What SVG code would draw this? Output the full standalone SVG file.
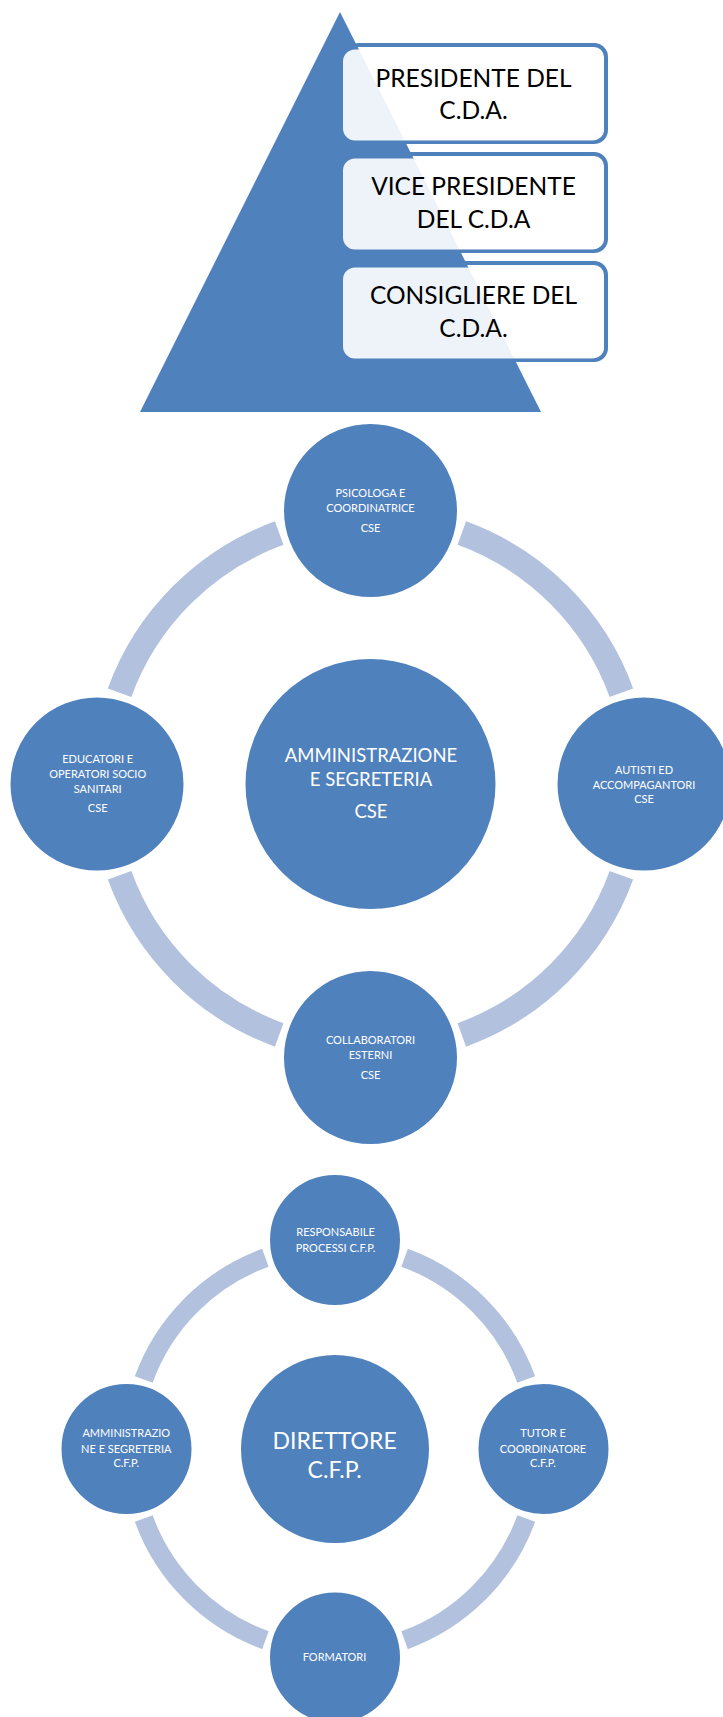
<svg xmlns="http://www.w3.org/2000/svg" width="723" height="1717" viewBox="0 0 723 1717">
<style>
.bg{fill:#ffffff}
.tri{fill:#4f81bd}
.bstroke{fill:none;stroke:#4f81bd;stroke-width:4}
.bfill{fill:#ffffff;fill-opacity:0.9}
.btxt{font-family:Lato,"Open Sans",sans-serif;font-size:24.5px;fill:#000000;text-anchor:middle}
.node{fill:#4f81bd;stroke:#ffffff;stroke-width:2}
.arc1{fill:none;stroke:#b2c2de;stroke-width:25}
.arc2{fill:none;stroke:#b2c2de;stroke-width:19}
.t{font-family:Lato,"Open Sans",sans-serif;fill:#ffffff;text-anchor:middle}
.s{font-size:11px}
.m{font-size:18.5px}
.l{font-size:23px}
</style>
<rect class="bg" x="0" y="0" width="723" height="1717"/>

<g id="pyramid">
<polygon class="tri" points="340,12 140,412 541,412"/>
</g>
<g id="box-presidente">
<rect class="bstroke" x="347" y="45" width="259" height="97" rx="12"/>
<rect class="bfill" x="343" y="49.5" width="261" height="91" rx="12"/>
<text class="btxt" x="473.5" y="87.3">PRESIDENTE DEL</text>
<text class="btxt" x="473.5" y="119">C.D.A.</text>
</g>
<g id="box-vicepresidente">
<rect class="bstroke" x="347" y="154" width="259" height="97" rx="12"/>
<rect class="bfill" x="343" y="158.5" width="261" height="91" rx="12"/>
<text class="btxt" x="473.5" y="195">VICE PRESIDENTE</text>
<text class="btxt" x="473.5" y="227.7">DEL C.D.A</text>
</g>
<g id="box-consigliere">
<rect class="bstroke" x="347" y="263" width="259" height="97" rx="12"/>
<rect class="bfill" x="343" y="267.5" width="261" height="91" rx="12"/>
<text class="btxt" x="473.5" y="304.3">CONSIGLIERE DEL</text>
<text class="btxt" x="473.5" y="337.3">C.D.A.</text>
</g>

<g id="connectors">
<path class="arc1" d="M461.82,533.10 A267,267 0 0 1 621.40,692.68"/>
<path class="arc1" d="M621.40,875.32 A267,267 0 0 1 461.82,1034.90"/>
<path class="arc1" d="M279.18,1034.90 A267,267 0 0 1 119.60,875.32"/>
<path class="arc1" d="M119.60,692.68 A267,267 0 0 1 279.18,533.10"/>
<path class="arc2" d="M404.60,1257.77 A203.5,203.5 0 0 1 526.23,1379.40"/>
<path class="arc2" d="M526.23,1518.60 A203.5,203.5 0 0 1 404.60,1640.23"/>
<path class="arc2" d="M265.40,1640.23 A203.5,203.5 0 0 1 143.77,1518.60"/>
<path class="arc2" d="M143.77,1379.40 A203.5,203.5 0 0 1 265.40,1257.77"/>
</g>

<g id="cse-center">
<circle class="node" cx="370.5" cy="784" r="126"/>
<text class="t m" x="371" y="761.7">AMMINISTRAZIONE</text>
<text class="t m" x="371" y="786">E SEGRETERIA</text>
<text class="t m" x="371" y="818">CSE</text>
</g>
<g id="cse-psicologa">
<circle class="node" cx="370.5" cy="510.5" r="87.5"/>
<text class="t s" x="370.5" y="496.7">PSICOLOGA E</text>
<text class="t s" x="370.5" y="512">COORDINATRICE</text>
<text class="t s" x="370.5" y="531.7">CSE</text>
</g>
<g id="cse-autisti">
<circle class="node" cx="644" cy="784" r="87.5"/>
<text class="t s" x="644" y="774">AUTISTI ED</text>
<text class="t s" x="644" y="789">ACCOMPAGANTORI</text>
<text class="t s" x="644" y="802.7">CSE</text>
</g>
<g id="cse-collaboratori">
<circle class="node" cx="370.5" cy="1057.5" r="87.5"/>
<text class="t s" x="370.5" y="1044">COLLABORATORI</text>
<text class="t s" x="370.5" y="1059.3">ESTERNI</text>
<text class="t s" x="370.5" y="1079">CSE</text>
</g>
<g id="cse-educatori">
<circle class="node" cx="97" cy="784" r="87.5"/>
<text class="t s" x="97.7" y="762.7">EDUCATORI E</text>
<text class="t s" x="97.7" y="777.7">OPERATORI SOCIO</text>
<text class="t s" x="97.7" y="793">SANITARI</text>
<text class="t s" x="97.7" y="812">CSE</text>
</g>

<g id="cfp-direttore">
<circle class="node" cx="335" cy="1449" r="95"/>
<text class="t l" x="334.6" y="1449">DIRETTORE</text>
<text class="t l" x="334.6" y="1477.7">C.F.P.</text>
</g>
<g id="cfp-responsabile">
<circle class="node" cx="335" cy="1240" r="66"/>
<text class="t s" x="335.5" y="1236">RESPONSABILE</text>
<text class="t s" x="335.5" y="1251.7">PROCESSI C.F.P.</text>
</g>
<g id="cfp-tutor">
<circle class="node" cx="543.5" cy="1449" r="66"/>
<text class="t s" x="543" y="1436.7">TUTOR E</text>
<text class="t s" x="543" y="1452.7">COORDINATORE</text>
<text class="t s" x="543" y="1466.7">C.F.P.</text>
</g>
<g id="cfp-formatori">
<circle class="node" cx="335" cy="1657.5" r="66"/>
<text class="t s" x="334.5" y="1660.7">FORMATORI</text>
</g>
<g id="cfp-amministrazione">
<circle class="node" cx="126.5" cy="1449" r="66"/>
<text class="t s" x="126.3" y="1436.7">AMMINISTRAZIO</text>
<text class="t s" x="126.3" y="1452.7">NE E SEGRETERIA</text>
<text class="t s" x="126.3" y="1466.7">C.F.P.</text>
</g>
</svg>
